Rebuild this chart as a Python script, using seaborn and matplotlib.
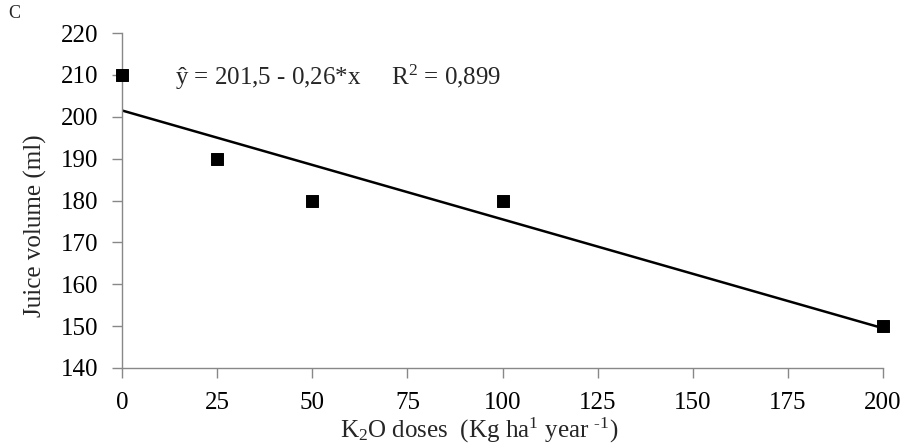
import matplotlib
matplotlib.use("Agg")
import matplotlib.pyplot as plt
import seaborn as sns
import numpy as np
import pandas as pd

doses = [0, 25, 50, 100, 200]
juice = [210, 190, 180, 180, 150]
intercept = 201.5
slope = -0.26
xticks = [0, 25, 50, 75, 100, 125, 150, 175, 200]
yticks = [140, 150, 160, 170, 180, 190, 200, 210, 220]

sns.set_theme(style="ticks")
plt.rcParams['font.family'] = ['Liberation Serif', 'DejaVu Serif']
plt.rcParams['mathtext.fontset'] = 'custom'
plt.rcParams['mathtext.rm'] = 'Liberation Serif'
plt.rcParams['mathtext.it'] = 'Liberation Serif:italic'

FS = 18
fig = plt.figure(figsize=(9.05, 4.45), dpi=100)
ax = fig.add_axes([122/905, 1-368/445, (883-122)/905, (368-33)/445])

fit_x = np.array([min(doses), max(doses)])
fit = pd.DataFrame({"x": fit_x, "y": intercept + slope * fit_x})
sns.lineplot(data=fit, x="x", y="y", ax=ax, color="black", linewidth=1.8)
df = pd.DataFrame({"x": doses, "y": juice})
sns.scatterplot(data=df, x="x", y="y", ax=ax, marker="s", s=75, color="black",
                edgecolor="black", zorder=5, clip_on=False)

ax.set_xlim(0, 200)
ax.set_ylim(140, 220)
ax.set_xticks(xticks)
ax.set_yticks(yticks)
ax.tick_params(axis="both", which="major", direction="out", length=7, width=1,
               color="#888888", labelsize=FS, labelcolor="black", bottom=True, left=True)
ax.tick_params(axis="y", pad=10)
ax.tick_params(axis="x", pad=10)
for s in ["top", "right"]:
    ax.spines[s].set_visible(False)
for s in ["left", "bottom"]:
    ax.spines[s].set_color("#888888")
    ax.spines[s].set_linewidth(1)

ax.set_xlabel("K$_2$O doses  (Kg ha$^1$ year $^{\u20101}$)", fontsize=FS, labelpad=0)
ax.xaxis.set_label_coords(0.47, -0.143, transform=ax.transAxes)
ax.xaxis.label.set_va("top")
ax.set_ylabel("Juice volume (ml)", fontsize=FS, labelpad=10)
ax.yaxis.set_label_coords(-0.098, 0.424, transform=ax.transAxes)
ax.text(14, 209.5, "ŷ = 201,5 - 0,26*x     R$^2$ = 0,899", fontsize=FS, va="center", ha="left")
fig.text(8/905, 1-14/445, "C", fontsize=13, va="center", ha="left")

fig.savefig("out.png", dpi=100)
